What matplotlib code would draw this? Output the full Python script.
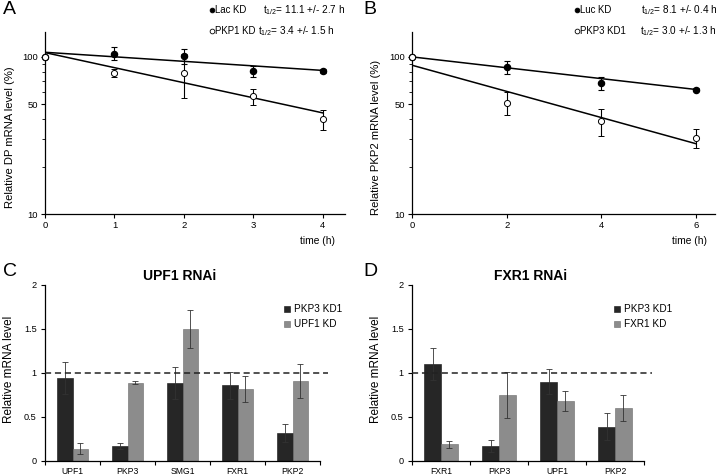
import numpy as np
import matplotlib.pyplot as plt
from matplotlib.ticker import FixedLocator, NullFormatter

plt.rcParams['font.family'] = ['Liberation Sans', 'DejaVu Sans']
plt.rcParams['mathtext.fontset'] = 'custom'
plt.rcParams['mathtext.rm'] = 'Liberation Sans'
plt.rcParams['mathtext.it'] = 'Liberation Sans'

# panel A: DP mRNA decay
t_a = [0, 1, 2, 3, 4]
lac_kd = [100, 105, 101, 81, 81.5]
lac_err = [0, 10, 11, 6, 2]
pkp1_kd = [100, 79, 79.5, 56, 40]
pkp1_err = [0, 5, 25, 6.5, 6]
fit_t_a = [0, 4]
lac_fit = [107, 82]
pkp1_fit = [106.5, 44]

# panel B: PKP2 mRNA decay
t_b = [0, 2, 4, 6]
luc_kd = [100, 86, 68, 62]
luc_err = [0, 8, 6, 1]
pkp3_kd = [100, 51, 39, 30.5]
pkp3_err = [0, 8.5, 7.5, 4]
fit_t_b = [0, 6]
luc_fit = [100, 62]
pkp3_fit = [88.5, 28]

# panel C: UPF1 RNAi
genes_c = ['UPF1', 'PKP3', 'SMG1', 'FXR1', 'PKP2']
c_pkp3 = [0.94, 0.17, 0.89, 0.86, 0.32]
c_pkp3_err = [0.18, 0.03, 0.18, 0.15, 0.10]
c_upf1 = [0.14, 0.89, 1.50, 0.82, 0.91]
c_upf1_err = [0.06, 0.02, 0.22, 0.15, 0.19]

# panel D: FXR1 RNAi
genes_d = ['FXR1', 'PKP3', 'UPF1', 'PKP2']
d_pkp3 = [1.10, 0.17, 0.90, 0.39]
d_pkp3_err = [0.18, 0.07, 0.14, 0.15]
d_fxr1 = [0.19, 0.75, 0.68, 0.60]
d_fxr1_err = [0.04, 0.26, 0.11, 0.15]

W, H = 720, 475
fig = plt.figure(figsize=(7.2, 4.75), dpi=100)


def fx(px):
    return px / W


def fy(py):
    return 1 - py / H


def style(ax):
    for s in ['top', 'right']:
        ax.spines[s].set_visible(False)
    for s in ['left', 'bottom']:
        ax.spines[s].set_linewidth(0.9)
    ax.tick_params(direction='out', length=3, width=0.8, labelsize=6.8, pad=2)


def decay_panel(rect, t, xmax, xticks, s1, e1, f1, s2, e2, f2, fit_t, ylabel):
    ax = fig.add_axes(rect)
    style(ax)
    ax.set_yscale('log')
    ax.set_ylim(10, 144)
    ax.set_xlim(0, xmax)
    ax.set_xticks(xticks)
    ax.yaxis.set_major_locator(FixedLocator([10, 50, 100]))
    ax.yaxis.set_minor_locator(FixedLocator([20, 30, 40, 60, 70, 80, 90]))
    ax.yaxis.set_minor_formatter(NullFormatter())
    ax.set_yticklabels(['10', '50', '100'])
    ax.tick_params(which='minor', length=2, width=0.6)
    ax.plot(fit_t, f1, color='black', lw=1.1, zorder=2)
    ax.plot(fit_t, f2, color='black', lw=1.1, zorder=2)
    ax.errorbar(t, s1, yerr=e1, fmt='o', ms=4.4, mfc='black', mec='black',
                ecolor='black', elinewidth=0.8, capsize=2, capthick=0.8,
                zorder=3, clip_on=False)
    ax.errorbar(t, s2, yerr=e2, fmt='o', ms=4.4, mfc='white', mec='black',
                mew=0.7, ecolor='black', elinewidth=0.8, capsize=2,
                capthick=0.8, zorder=3, clip_on=False)
    ax.set_ylabel(ylabel, fontsize=8.1)
    return ax


ax_a = decay_panel([fx(45), fy(214), fx(300), fy(32) - fy(214)], t_a, 4.32,
                   [0, 1, 2, 3, 4], lac_kd, lac_err, lac_fit,
                   pkp1_kd, pkp1_err, pkp1_fit, fit_t_a,
                   'Relative DP mRNA level (%)')
ax_a.yaxis.set_label_coords((15 - 45) / 300, (214 - 137) / 182)
ax_b = decay_panel([fx(412), fy(214), fx(303), fy(32) - fy(214)], t_b, 6.4,
                   [0, 2, 4, 6], luc_kd, luc_err, luc_fit,
                   pkp3_kd, pkp3_err, pkp3_fit, fit_t_b,
                   'Relative PKP2 mRNA level (%)')
ax_b.yaxis.set_label_coords((381 - 412) / 303, (214 - 137) / 182)

fig.text(fx(318), fy(241), 'time (h)', fontsize=7.4, ha='center', va='center')
fig.text(fx(690), fy(241), 'time (h)', fontsize=7.4, ha='center', va='center')


def decay_legend(x_mark, x_t1, x_t2, rows):
    for (y, filled, name, t_text), xt in zip(rows, [x_t1, x_t2]):
        fig.add_artist(plt.Line2D([fx(x_mark)], [fy(y)], marker='o', ms=3.4,
                                  mfc='black' if filled else 'white',
                                  mec='black', mew=0.6, ls='none',
                                  transform=fig.transFigure))
        fig.text(fx(x_mark + 3), fy(y), name, fontsize=6.9, va='center')
        fig.text(fx(xt), fy(y), t_text, fontsize=7.2, va='center')


decay_legend(212, 263, 258, [(10, True, 'Lac KD', r't$_{\mathregular{1/2}}$= 11.1 +/- 2.7 h'),
                             (31, False, 'PKP1 KD', r't$_{\mathregular{1/2}}$= 3.4 +/- 1.5 h')])
decay_legend(577, 641, 640, [(10, True, 'Luc KD', r't$_{\mathregular{1/2}}$= 8.1 +/- 0.4 h'),
                             (31, False, 'PKP3 KD1', r't$_{\mathregular{1/2}}$= 3.0 +/- 1.3 h')])

dark = '#262626'
gray = '#8c8c8c'


def bar_panel(rect, genes, v1, e1, v2, e2, lab1, lab2, leg_x, dash_end):
    ax = fig.add_axes(rect)
    style(ax)
    n = len(genes)
    x = np.arange(n) + 0.5
    w = 0.29
    ax.bar(x - w / 2, v1, w, yerr=e1, color=dark, edgecolor='#111111', lw=0.4,
           error_kw=dict(ecolor='#333333', elinewidth=0.6, capsize=2, capthick=0.6))
    ax.bar(x + w / 2, v2, w, yerr=e2, color=gray, edgecolor='#6a6a6a', lw=0.4,
           error_kw=dict(ecolor='#333333', elinewidth=0.6, capsize=2, capthick=0.6))
    ax.plot([0, dash_end], [1, 1], color='#222222', lw=1.1, ls=(0, (4, 2.5)),
            clip_on=False, zorder=4)
    ax.set_xlim(0, n)
    ax.set_ylim(0, 2)
    ax.set_yticks([0, 0.5, 1, 1.5, 2])
    ax.set_yticklabels(['0', '0.5', '1', '1.5', '2'])
    ax.set_xticks(np.arange(n + 1))
    ax.set_xticklabels([])
    ax.set_xticks(x, minor=True)
    ax.set_xticklabels(genes, minor=True)
    ax.tick_params(axis='x', which='minor', length=0, labelsize=6.2, pad=4)
    ax.tick_params(axis='y', labelsize=6.6, pad=3)
    ax.set_ylabel('Relative mRNA level', fontsize=8.5)
    for i, (c, ec, lab) in enumerate([(dark, '#111111', lab1), (gray, '#6a6a6a', lab2)]):
        y = 309 + 15 * i
        fig.add_artist(plt.Line2D([fx(leg_x)], [fy(y)], marker='s', ms=5,
                                  mfc=c, mec=ec, mew=0.4, ls='none',
                                  transform=fig.transFigure))
        fig.text(fx(leg_x + 7), fy(y), lab, fontsize=7.2, va='center')
    return ax


ax_c = bar_panel([fx(45), fy(461), fx(275), fy(285) - fy(461)], genes_c,
                 c_pkp3, c_pkp3_err, c_upf1, c_upf1_err,
                 'PKP3 KD1', 'UPF1 KD', 287, 5.15)
ax_c.yaxis.set_label_coords((15 - 45) / 275, (461 - 369) / 176)
ax_d = bar_panel([fx(412), fy(461), fx(232), fy(285) - fy(461)], genes_d,
                 d_pkp3, d_pkp3_err, d_fxr1, d_fxr1_err,
                 'PKP3 KD1', 'FXR1 KD', 617, 4.14)
ax_d.yaxis.set_label_coords((382 - 412) / 232, (461 - 369) / 176)

fig.text(fx(180), fy(276), 'UPF1 RNAi', fontsize=10, fontweight='bold',
         ha='center', va='center')
fig.text(fx(531), fy(276), 'FXR1 RNAi', fontsize=10, fontweight='bold',
         ha='center', va='center')

for lab, x, y in [('A', 3, 10), ('B', 363, 10), ('C', 3, 272), ('D', 363, 272)]:
    fig.text(fx(x), fy(y), lab, fontsize=14, ha='left', va='center')

fig.savefig('out.png', dpi=100)
